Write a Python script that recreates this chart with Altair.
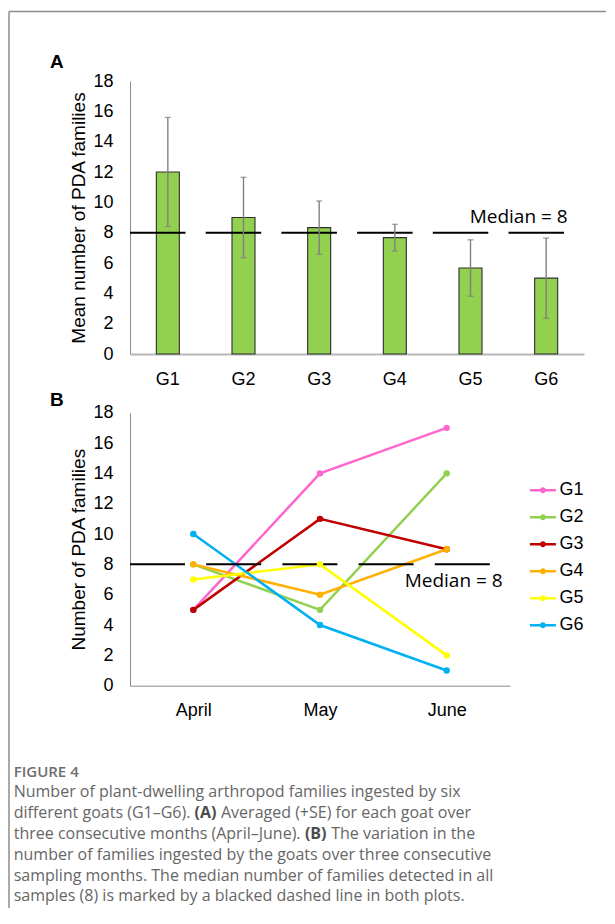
import altair as alt
import pandas as pd

# ---------------- data ----------------
goats = ["G1", "G2", "G3", "G4", "G5", "G6"]
mean_families = [12.0, 9.0, 8.33, 7.67, 5.67, 5.0]
se_families = [3.6, 2.65, 1.76, 0.88, 1.86, 2.65]

months = ["April", "May", "June"]
g1 = [5, 14, 17]
g2 = [8, 5, 14]
g3 = [5, 11, 9]
g4 = [8, 6, 9]
g5 = [7, 8, 2]
g6 = [10, 4, 1]
series_values = [g1, g2, g3, g4, g5, g6]
series_colors = ["#ff66cc", "#92d050", "#c00000", "#ffb000", "#ffff00", "#00b0f0"]

median_value = 8
median_label = "Median = 8"
y_ticks = [0, 2, 4, 6, 8, 10, 12, 14, 16, 18]
panel_labels = ["A", "B"]

caption_title = "FIGURE 4"
caption_segments = [
    [("Number of plant-dwelling arthropod families ingested by six", "normal")],
    [("different goats (G1\u2013G6).", "normal"), ("(A)", "bold"),
     ("Averaged (+SE) for each goat over", "normal")],
    [("three consecutive months (April\u2013June).", "normal"), ("(B)", "bold"),
     ("The variation in the", "normal")],
    [("number of families ingested by the goats over three consecutive", "normal")],
    [("sampling months. The median number of families detected in all", "normal")],
    [("samples (8) is marked by a blacked dashed line in both plots.", "normal")],
]

# ---------------- style ----------------
FONT = "Liberation Sans"
CAP_FONT = "Open Sans"
CAP_COLOR = "#666666"
WA, HA = 454, 273
WB, HB = 380, 273
GAP = 58.7


def y_axis(title):
    return alt.Axis(values=y_ticks, title=title, grid=False, ticks=False,
                    labelPadding=17, labelFontSize=18, labelOverlap=False,
                    titleFontSize=19, titlePadding=4, domainColor="#8c8c8c",
                    domainWidth=1)


def x_axis(color, width):
    return alt.Axis(title=None, labelAngle=0, ticks=False, labelPadding=16,
                    labelFontSize=18, domainColor=color, domainWidth=width)


y_scale = alt.Scale(domain=[0, 18], nice=False)

# ---------------- panel A ----------------
dfA = pd.DataFrame({"goat": goats, "mean": mean_families, "se": se_families})
dfA["lo"] = dfA["mean"] - dfA["se"]
dfA["hi"] = dfA["mean"] + dfA["se"]
baseA = alt.Chart(dfA)

axA_y = y_axis("Mean number of PDA families")
axA_x = x_axis("#b8b8b8", 2)
xA = alt.X("goat:N", sort=goats, scale=alt.Scale(paddingInner=0, paddingOuter=0),
           axis=axA_x)

bars = baseA.mark_bar(size=23, color="#92d050", stroke="#2e2e2e",
                      strokeWidth=1.1).encode(
    x=xA, y=alt.Y("mean:Q", scale=y_scale, axis=axA_y))
err = baseA.mark_rule(color="#808080", strokeWidth=1.4).encode(
    x=xA, y=alt.Y("lo:Q", scale=y_scale, axis=axA_y), y2="hi:Q")
cap_hi = baseA.mark_tick(color="#808080", thickness=1.4, size=6).encode(
    x=xA, y=alt.Y("hi:Q", scale=y_scale, axis=axA_y))
cap_lo = baseA.mark_tick(color="#808080", thickness=1.4, size=6).encode(
    x=xA, y=alt.Y("lo:Q", scale=y_scale, axis=axA_y))

med_df = pd.DataFrame({"median": [median_value]})
medA = alt.Chart(med_df).mark_rule(color="black", strokeWidth=2,
                                   strokeDash=[55.5, 20.2]).encode(
    y=alt.Y("median:Q", scale=y_scale, axis=axA_y),
    x=alt.value(0), x2=alt.value(434))
medA_text = alt.Chart(pd.DataFrame({"goat": [goats[-1]], "median": [median_value],
                                    "label": [median_label]})).mark_text(
    align="right", baseline="alphabetic", dx=21.5, dy=-9.5, font=CAP_FONT,
    fontSize=19, color="black").encode(
    x=xA, y=alt.Y("median:Q", scale=y_scale, axis=axA_y), text="label:N")

labA = alt.Chart(pd.DataFrame({"t": [panel_labels[0]]})).mark_text(
    align="left", baseline="alphabetic", font=FONT, fontSize=19,
    fontWeight="bold", color="black").encode(
    text="t:N", x=alt.value(-80), y=alt.value(-13.3))

# figure frame (top and left border of the figure box)
frame_df = pd.DataFrame({"k": [0]})
frame_top = alt.Chart(frame_df).mark_rule(color="#8c8c8c", strokeWidth=1.5).encode(
    x=alt.value(-121), x2=alt.value(476), y=alt.value(-69.5))
frame_left = alt.Chart(frame_df).mark_rule(color="#8c8c8c", strokeWidth=1.5).encode(
    x=alt.value(-121), y=alt.value(-69.5), y2=alt.value(827))

panelA = alt.layer(bars, medA, err, cap_hi, cap_lo, medA_text, labA,
                   frame_top, frame_left).properties(width=WA, height=HA)

# ---------------- panel B ----------------
rows = []
for g, vals in zip(goats, series_values):
    for m, v in zip(months, vals):
        rows.append({"goat": g, "month": m, "value": v})
dfB = pd.DataFrame(rows)

axB_y = y_axis("Number of PDA families")
axB_x = x_axis("#8c8c8c", 1)
xB = alt.X("month:N", sort=months, scale=alt.Scale(type="point", padding=0.5),
           axis=axB_x)
color_scale = alt.Scale(domain=goats, range=series_colors)

legend_symbol = ("M-1,0H1M0.13,0A0.13,0.13,0,1,1,-0.13,0"
                 "A0.13,0.13,0,1,1,0.13,0Z")
lines = alt.Chart(dfB).mark_line(strokeWidth=2.5).encode(
    x=xB, y=alt.Y("value:Q", scale=y_scale, axis=axB_y),
    color=alt.Color("goat:N", scale=color_scale, sort=goats,
                    legend=alt.Legend(title=None, orient="none", legendX=398.4,
                                      legendY=63 + HA + GAP,
                                      symbolType=legend_symbol,
                                      symbolSize=676, symbolStrokeWidth=2.5,
                                      labelFont=FONT, labelFontSize=18,
                                      labelColor="black", labelOffset=2,
                                      rowPadding=3, padding=0)))
points = alt.Chart(dfB).mark_point(filled=True, size=42, opacity=1).encode(
    x=xB, y=alt.Y("value:Q", scale=y_scale, axis=axB_y),
    color=alt.Color("goat:N", scale=color_scale, sort=goats, legend=None))

medB = alt.Chart(med_df).mark_rule(color="black", strokeWidth=2,
                                   strokeDash=[55, 21.2]).encode(
    y=alt.Y("median:Q", scale=y_scale, axis=axB_y),
    x=alt.value(0), x2=alt.value(360))
medB_text = alt.Chart(pd.DataFrame({"month": [months[-1]], "median": [median_value],
                                    "label": [median_label]})).mark_text(
    align="right", baseline="alphabetic", dx=56, dy=22.5, font=CAP_FONT,
    fontSize=19, color="black").encode(
    x=xB, y=alt.Y("median:Q", scale=y_scale, axis=axB_y), text="label:N")
labB = alt.Chart(pd.DataFrame({"t": [panel_labels[1]]})).mark_text(
    align="left", baseline="alphabetic", font=FONT, fontSize=19,
    fontWeight="bold", color="black").encode(
    text="t:N", x=alt.value(-80), y=alt.value(-7))

panelB = alt.layer(lines, medB, points, medB_text, labB).properties(
    width=WB, height=HB)

# ---------------- caption ----------------
CAP_X0 = -116.3                      # left edge of caption text
SEG_X = {(2, 1): 64.5, (2, 2): 91.0, (3, 1): 174.9, (3, 2): 201.2}
cap_y = alt.Y("row:Q", scale=alt.Scale(domain=[0, 6], range=[32.2, 157]),
              axis=None)

cap_layers = [
    alt.Chart(pd.DataFrame({"row": [0], "text": [caption_title]})).mark_text(
        align="left", baseline="alphabetic", font=CAP_FONT, fontSize=15,
        fontWeight=600, color="#6e6e6e").encode(
        y=cap_y, text="text:N", x=alt.value(CAP_X0))
]
first = pd.DataFrame({"row": list(range(1, len(caption_segments) + 1)),
                      "text": [segs[0][0] for segs in caption_segments]})
cap_layers.append(alt.Chart(first).mark_text(
    align="left", baseline="alphabetic", font=CAP_FONT, fontSize=16,
    color=CAP_COLOR).encode(y=cap_y, text="text:N", x=alt.value(CAP_X0)))
for r, segs in enumerate(caption_segments, start=1):
    for s, (txt, weight) in enumerate(segs):
        if s == 0:
            continue
        cap_layers.append(alt.Chart(pd.DataFrame({"row": [r], "text": [txt]})).mark_text(
            align="left", baseline="alphabetic", font=CAP_FONT, fontSize=16,
            fontWeight=weight, color="#4d4d4d" if weight == "bold" else CAP_COLOR).encode(
            y=cap_y, text="text:N", x=alt.value(SEG_X[(r, s)])))

caption = alt.layer(*cap_layers).properties(width=WB, height=165)

chart = alt.vconcat(panelA, panelB, caption, spacing=GAP, bounds="flush").properties(
    padding={"left": 0, "top": 2, "right": 0, "bottom": 0}
).configure_view(stroke=None).configure_axis(
    labelFont=FONT, titleFont=FONT, labelColor="black", titleColor="black",
    titleFontWeight="normal", labelOverlap=False)

chart.save("out.html", embed_options={"renderer": "svg", "actions": False})
